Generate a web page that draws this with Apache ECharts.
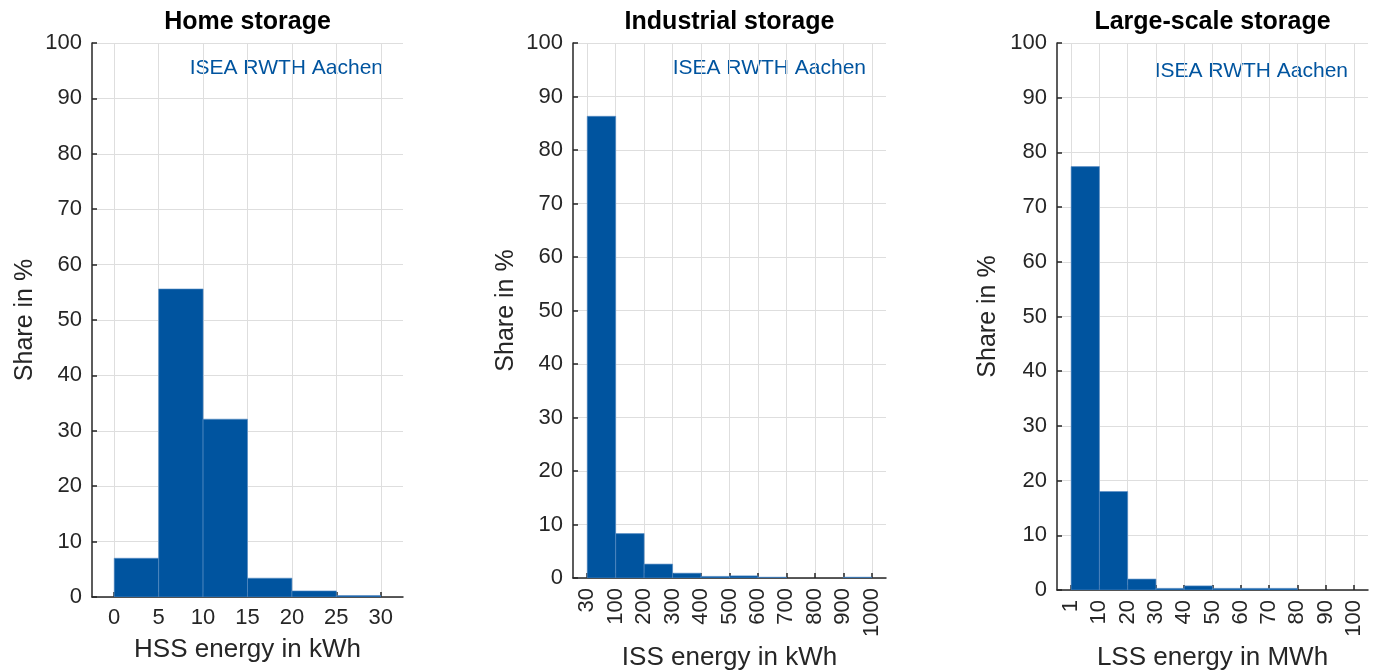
<!DOCTYPE html>
<html lang="en">
<head>
    <meta charset="utf-8">
    <title>Storage size histograms</title>
    <script src="https://cdn.jsdelivr.net/npm/echarts@6/dist/echarts.min.js"></script>
    <style>
        html, body { margin: 0; padding: 0; background: #fff; }
        #main { width: 1373px; height: 671px; }
    </style>
</head>
<body>
<div id="main"></div>
<script>
    // bin edges (tick labels) and share in % per bin
    var hssTicks = ['0', '5', '10', '15', '20', '25', '30'];
    var hssShare = [7.0, 55.6, 32.1, 3.4, 1.1, 0.25];

    var issTicks = ['30', '100', '200', '300', '400', '500', '600', '700', '800', '900', '1000'];
    var issShare = [86.3, 8.3, 2.6, 0.9, 0.3, 0.4, 0.15, 0, 0, 0.15];

    var lssTicks = ['1', '10', '20', '30', '40', '50', '60', '70', '80', '90', '100'];
    var lssShare = [77.4, 18.0, 2.0, 0.3, 0.75, 0.3, 0.3, 0.3, 0, 0];

    var yTicks = [0, 10, 20, 30, 40, 50, 60, 70, 80, 90, 100];

    var rwthBlue = '#00549F';
    var axisColor = '#262626';
    var gridColor = '#dedede';
    var fontFam = '"Liberation Sans", Arial, sans-serif';

    // categories: edge, tick, half, tick, half ... tick, edge
    function makeCats(ticks) {
        var cats = [''];
        ticks.forEach(function (t) {
            cats.push(t);
            cats.push('');
        });
        return cats;
    }
    function onTick(idx) { return idx % 2 === 1; }

    var grids = [
        { left: 92, width: 311, top: 43, height: 554, containLabel: false, outerBoundsMode: 'none' },
        { left: 573, width: 313, top: 43, height: 535, containLabel: false, outerBoundsMode: 'none' },
        { left: 1057, width: 311, top: 43, height: 547, containLabel: false, outerBoundsMode: 'none' }
    ];
    var panels = [
        { ticks: hssTicks, share: hssShare, name: 'HSS energy in kWh', rotate: 0, nameGap: 53 },
        { ticks: issTicks, share: issShare, name: 'ISS energy in kWh', rotate: 90, nameGap: 79 },
        { ticks: lssTicks, share: lssShare, name: 'LSS energy in MWh', rotate: 90, nameGap: 67 }
    ];
    var titles = ['Home storage', 'Industrial storage', 'Large-scale storage'];
    var yNameGaps = [67, 67, 69];

    var xAxes = [], yAxes = [], series = [], graphics = [];

    panels.forEach(function (p, k) {
        xAxes.push({
            gridIndex: k,
            type: 'category',
            boundaryGap: false,
            data: makeCats(p.ticks),
            name: p.name,
            nameLocation: 'middle',
            nameGap: p.nameGap,
            nameTextStyle: { fontSize: 26, color: axisColor, fontFamily: fontFam, verticalAlign: 'middle' },
            axisLine: { lineStyle: { color: axisColor, width: 1.5 } },
            axisTick: { inside: true, length: 5, interval: onTick, lineStyle: { color: axisColor, width: 1.5 } },
            axisLabel: {
                interval: onTick,
                rotate: p.rotate,
                margin: 10,
                fontSize: 22,
                color: axisColor,
                fontFamily: fontFam
            },
            splitLine: { show: true, interval: onTick, lineStyle: { color: gridColor, width: 1 } }
        });
        yAxes.push({
            gridIndex: k,
            type: 'value',
            min: yTicks[0],
            max: yTicks[yTicks.length - 1],
            interval: yTicks[1] - yTicks[0],
            name: 'Share in %',
            nameLocation: 'middle',
            nameGap: yNameGaps[k],
            nameTextStyle: { fontSize: 25, color: axisColor, fontFamily: fontFam, verticalAlign: 'middle' },
            axisLine: { show: true, lineStyle: { color: axisColor, width: 1.5 } },
            axisTick: { show: true, inside: true, length: 5, lineStyle: { color: axisColor, width: 1.5 } },
            axisLabel: { fontSize: 22, color: axisColor, margin: 10, fontFamily: fontFam },
            splitLine: { show: true, lineStyle: { color: gridColor, width: 1 } }
        });
        series.push({
            type: 'custom',
            xAxisIndex: k,
            yAxisIndex: k,
            clip: true,
            encode: { x: 0, y: 1 },
            data: p.share.map(function (v, i) { return [2 * i + 1, v]; }),
            renderItem: function (params, api) {
                var i = api.value(0);
                var v = api.value(1);
                if (!v) return;
                var p0 = api.coord([i, 0]);
                var p1 = api.coord([i + 2, v]);
                return {
                    type: 'rect',
                    shape: { x: p0[0], y: p1[1], width: p1[0] - p0[0], height: p0[1] - p1[1] },
                    style: { fill: rwthBlue, stroke: '#5b8fc6', lineWidth: 0.6 }
                };
            }
        });
        var g = grids[k];
        graphics.push({
            type: 'text',
            x: g.left + g.width / 2,
            y: 22,
            style: {
                text: titles[k],
                font: 'bold 25px ' + fontFam,
                fill: '#000',
                align: 'center',
                verticalAlign: 'middle'
            }
        });
        graphics.push({
            type: 'text',
            x: g.left + g.width - 20,
            y: k === 2 ? 71 : 68,
            style: {
                text: 'ISEA RWTH Aachen',
                font: '21px ' + fontFam,
                fill: rwthBlue,
                align: 'right',
                verticalAlign: 'middle'
            }
        });
    });

    var myChart = echarts.init(document.getElementById('main'), null, { renderer: 'canvas' });
    myChart.setOption({
        animation: false,
        backgroundColor: '#fff',
        grid: grids,
        xAxis: xAxes,
        yAxis: yAxes,
        series: series,
        graphic: graphics
    });
</script>
</body>
</html>
